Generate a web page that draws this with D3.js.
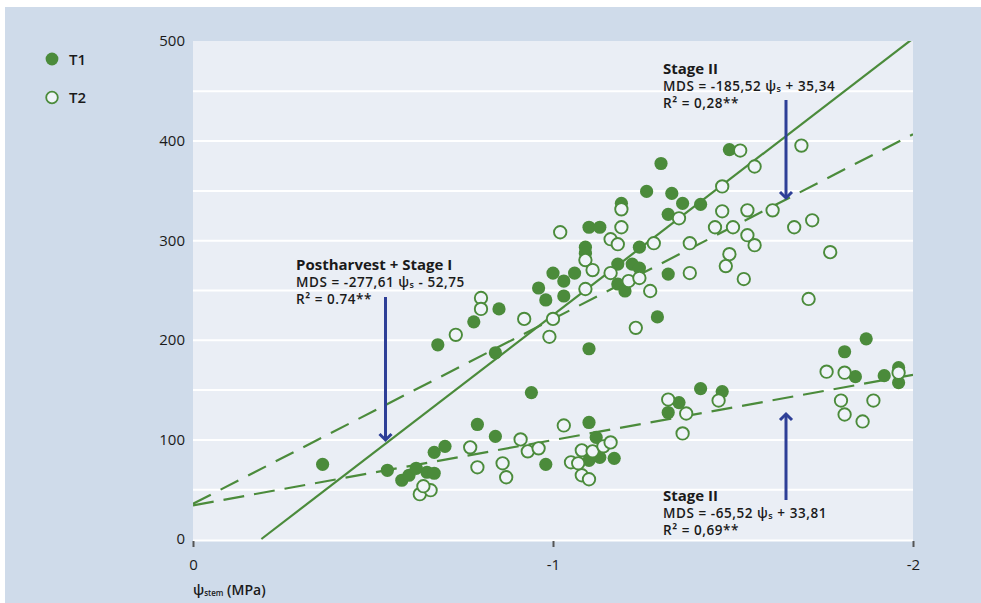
<!DOCTYPE html>
<html>
<head>
<meta charset="utf-8">
<script src="https://cdn.jsdelivr.net/npm/d3@7"></script>
<style>
  body { margin: 0; background: #ffffff; }
  text { font-family: "Open Sans", "Noto Sans", sans-serif; fill: #1a1a1a; }
</style>
</head>
<body>
<svg id="chart" width="981" height="603"></svg>
<script>
// Stem water potential (MPa) and maximum daily trunk shrinkage (MDS) per treatment
const t1Psi = [-0.36,-0.54,-0.58,-0.60,-0.62,-0.65,-0.67,-0.67,-0.70,-0.79,-0.84,-0.94,-0.98,-1.10,-1.12,-1.10,-1.13,-1.17,-1.35,-1.32,-1.41,-1.47,-1.81,-1.87,-1.84,-1.92,-1.96,-1.96,
  -0.68,-0.78,-0.85,-0.84,-0.96,-0.98,-1.00,-1.03,-1.06,-1.03,-1.09,-1.09,-1.10,-1.13,-1.10,-1.18,-1.22,-1.24,-1.18,-1.20,-1.19,-1.24,-1.26,-1.30,-1.33,-1.36,-1.32,-1.32,-1.29,-1.41,-1.49];
const t1Mds = [75,69,59,64,71,67,66,87,93,115,103,147,75,117,102,79,82,81,137,127,151,148,188,201,163,164,172,157,
  195,218,231,187,252,240,267,259,267,244,293,287,313,313,191,276,276,272,256,249,337,293,349,377,347,337,326,266,223,336,391];

const t2Psi = [-0.63,-0.66,-0.64,-0.77,-0.79,-0.86,-0.87,-0.91,-0.93,-0.96,-1.03,-1.05,-1.08,-1.11,-1.14,-1.16,-1.08,-1.10,-1.07,-1.32,-1.37,-1.36,-1.46,-1.76,-1.81,-1.80,-1.81,-1.86,-1.89,-1.96,
  -0.73,-0.80,-0.80,-0.92,-0.99,-1.00,-1.02,-1.09,-1.09,-1.11,-1.16,-1.18,-1.19,-1.19,-1.16,-1.21,-1.24,-1.27,-1.23,-1.28,-1.35,-1.38,-1.38,-1.47,-1.52,-1.56,-1.69,-1.45,-1.47,-1.50,-1.54,-1.61,-1.54,-1.56,-1.49,-1.48,-1.53,-1.67,-1.72,-1.77,-1.71];
const t2Mds = [45,49,53,92,72,76,62,100,88,91,114,77,89,88,93,97,64,60,76,140,126,106,139,168,167,139,125,118,139,167,
  205,242,231,221,203,221,308,280,251,270,301,296,313,331,267,259,262,249,212,297,322,297,267,354,390,374,395,313,329,313,330,330,305,295,286,274,261,313,320,288,241];

// Regression lines: MDS = slope * psi + intercept
const fitSlope     = [-277.61, -185.52, -65.52];
const fitIntercept = [-52.75, 35.34, 33.81];

const xTicks = [0, -1, -2];
const yTicks = [0, 100, 200, 300, 400, 500];
const yGrid  = [50, 100, 150, 200, 250, 300, 350, 400, 450];

const seriesNames = ["T1", "T2"];

const green = "#4b8b3b";
const blue = "#2e3f97";
const hollowFill = "#eff3f9";

const svg = d3.select("#chart");

// outer panel
svg.append("rect").attr("x", 5).attr("y", 7).attr("width", 976).attr("height", 596).attr("fill", "#cfdbea");

const plot = { left: 193, right: 913, top: 41, bottom: 541 };
const x = d3.scaleLinear().domain([0, -2]).range([193, 913]);
const y = d3.scaleLinear().domain([0, 500]).range([539, 41]);

svg.append("rect")
  .attr("x", plot.left).attr("y", plot.top)
  .attr("width", plot.right - plot.left).attr("height", plot.bottom - plot.top)
  .attr("fill", "#eaeef5");

// horizontal grid
svg.append("g")
  .attr("transform", `translate(${plot.left},0)`)
  .call(d3.axisLeft(y).tickValues(yGrid).tickSize(-(plot.right - plot.left)).tickFormat(""))
  .call(g => g.select(".domain").remove())
  .call(g => g.selectAll("line").attr("stroke", "#ffffff").attr("stroke-width", 2));

svg.append("line")
  .attr("x1", plot.left).attr("x2", plot.right)
  .attr("y1", plot.bottom - 0.5).attr("y2", plot.bottom - 0.5)
  .attr("stroke", "#ffffff").attr("stroke-width", 2);

// y axis labels
svg.append("g")
  .attr("transform", `translate(${plot.left - 8},0)`)
  .call(d3.axisLeft(y).tickValues(yTicks).tickSize(0).tickPadding(0))
  .call(g => g.select(".domain").remove())
  .call(g => g.selectAll("text").attr("font-size", 15).attr("font-family", "'Open Sans', sans-serif").attr("fill", "#1a1a1a"));

// x axis
svg.append("g")
  .attr("transform", `translate(0,${plot.bottom})`)
  .call(d3.axisBottom(x).tickValues(xTicks).tickSize(6).tickPadding(12).tickFormat(d => d === 0 ? "0" : "-" + Math.abs(d)))
  .call(g => g.select(".domain").remove())
  .call(g => g.selectAll("line").attr("stroke", "#555").attr("stroke-width", 2))
  .call(g => g.selectAll("text").attr("font-size", 15).attr("font-family", "'Open Sans', sans-serif").attr("fill", "#1a1a1a"));

// x axis title
const xt = svg.append("text").attr("x", 193).attr("y", 595).attr("font-size", 14).attr("font-weight", 600);
xt.append("tspan").text("ψ");
xt.append("tspan").attr("font-size", 8).attr("dy", 1).text("stem");
xt.append("tspan").attr("dy", -1).text(" (MPa)");

// clip for regression lines
svg.append("clipPath").attr("id", "plotClip")
  .append("rect").attr("x", plot.left).attr("y", plot.top)
  .attr("width", plot.right - plot.left).attr("height", plot.bottom - plot.top);

const lineDash = [null, "20,11", "21,10"];
const lines = svg.append("g").attr("clip-path", "url(#plotClip)");
fitSlope.forEach((s, i) => {
  // the postharvest fit is drawn from where it crosses MDS = 0
  const psiStart = fitIntercept[i] < 0 ? -fitIntercept[i] / s : 0;
  const pts = [psiStart, -2].map(p => [x(p), y(s * p + fitIntercept[i])]);
  lines.append("path")
    .attr("d", d3.line()(pts))
    .attr("fill", "none")
    .attr("stroke", green)
    .attr("stroke-width", 2.2)
    .attr("stroke-dasharray", lineDash[i]);
});

// points
const pts = svg.append("g");
pts.selectAll("circle.t1")
  .data(d3.range(t1Psi.length))
  .join("circle").attr("class", "t1")
  .attr("cx", i => x(t1Psi[i])).attr("cy", i => y(t1Mds[i]))
  .attr("r", 6.6).attr("fill", green);
pts.selectAll("circle.t2")
  .data(d3.range(t2Psi.length))
  .join("circle").attr("class", "t2")
  .attr("cx", i => x(t2Psi[i])).attr("cy", i => y(t2Mds[i]))
  .attr("r", 6.2).attr("fill", hollowFill).attr("stroke", green).attr("stroke-width", 1.9);

// legend
const legend = svg.append("g");
seriesNames.forEach((name, i) => {
  const cy = 59 + i * 38.5;
  legend.append("circle").attr("cx", 52).attr("cy", cy)
    .attr("r", i === 0 ? 6.4 : 5.8)
    .attr("fill", i === 0 ? green : hollowFill)
    .attr("stroke", i === 0 ? "none" : green).attr("stroke-width", 1.8);
  legend.append("text").attr("x", 69).attr("y", cy + 5.5)
    .attr("font-size", 15).attr("font-weight", 600).text(name);
});

// arrows
function arrow(xp, y1, y2) {
  const dir = y2 > y1 ? 1 : -1;
  const g = svg.append("g").attr("stroke", blue).attr("fill", "none").attr("stroke-width", 3);
  g.append("line").attr("x1", xp).attr("x2", xp).attr("y1", y1).attr("y2", y2 - dir * 2);
  g.append("path").attr("d", `M${xp - 6},${y2 - dir * 7} L${xp},${y2 - dir * 1} L${xp + 6},${y2 - dir * 7}`)
    .attr("stroke-linejoin", "miter");
}
arrow(385.5, 297, 441);
arrow(786, 100, 199);
arrow(786, 500, 413);

// annotations: title, fitted equation and R² for each fit
function annot(xp, yp, title, slopeTxt, interceptTxt, r2Txt) {
  svg.append("text").attr("x", xp).attr("y", yp - 1).attr("font-size", 15).attr("font-weight", 700).text(title);
  const eq = svg.append("text").attr("x", xp).attr("y", yp + 15.5).attr("font-size", 13.5)
    .attr("font-weight", 600).attr("letter-spacing", 0.55);
  eq.append("tspan").text("MDS = " + slopeTxt + " ψ");
  eq.append("tspan").attr("font-size", 9).attr("dy", 1).text("s");
  eq.append("tspan").attr("dy", -1).text(" " + interceptTxt);
  svg.append("text").attr("x", xp).attr("y", yp + 33).attr("font-size", 13.5)
    .attr("font-weight", 600).attr("letter-spacing", 0.55).text(r2Txt);
}
annot(296, 271, "Postharvest + Stage I", "-277,61", "- 52,75", "R² = 0.74**");
annot(663, 75, "Stage II", "-185,52", "+ 35,34", "R² = 0,28**");
annot(663, 502, "Stage II", "-65,52", "+ 33,81", "R² = 0,69**");
</script>
</body>
</html>
